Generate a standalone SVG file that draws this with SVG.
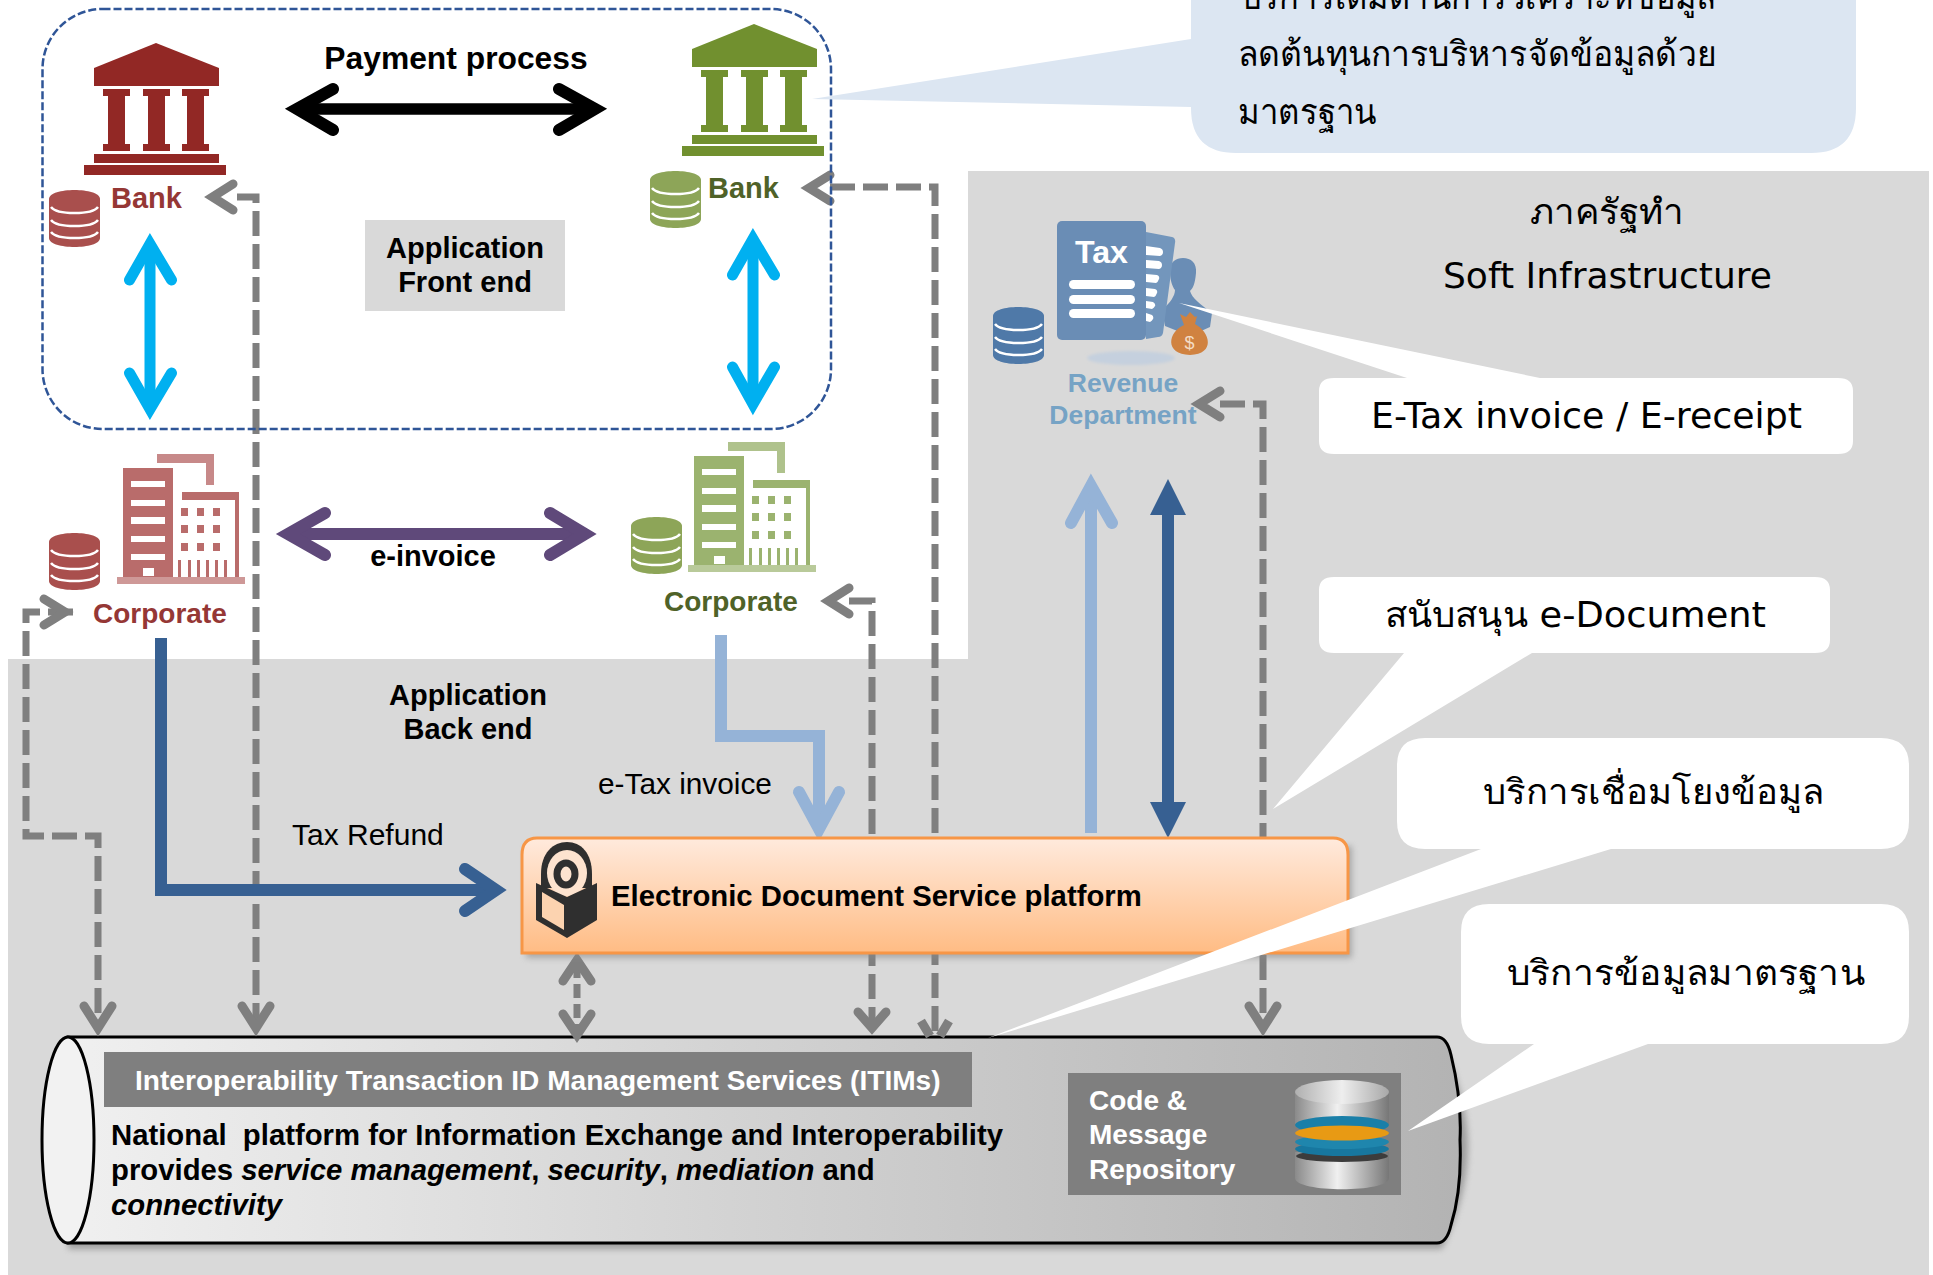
<svg xmlns="http://www.w3.org/2000/svg" width="1933" height="1275" viewBox="0 0 1933 1275">
<style>
text{font-family:"Liberation Sans",Arial,sans-serif;fill:#000}
.b{font-weight:700}
.t{font-family:"DejaVu Sans","Noto Sans",sans-serif;font-size:35px}
.cn{fill:none;stroke-linejoin:miter}
.g{stroke:#7f7f7f;stroke-width:7}
.h{stroke:#7f7f7f;stroke-width:9;stroke-linecap:round}
.d{stroke-dasharray:25 8}
.w{fill:#fff}
</style>
<defs>
<linearGradient id="og" x1="0" y1="0" x2="0" y2="1"><stop offset="0" stop-color="#ffeadd"/><stop offset="1" stop-color="#ffbc84"/></linearGradient>
<linearGradient id="cg" x1="0" y1="0" x2="1" y2="0"><stop offset="0" stop-color="#f0f0f0"/><stop offset="1" stop-color="#b3b3b3"/></linearGradient>
<linearGradient id="sv" x1="0" y1="0" x2="1" y2="0"><stop offset="0" stop-color="#8a8a8a"/><stop offset=".45" stop-color="#f0f0f0"/><stop offset="1" stop-color="#777"/></linearGradient>
<linearGradient id="sv2" x1="0" y1="0" x2="1" y2="0"><stop offset="0" stop-color="#b0b0b0"/><stop offset=".5" stop-color="#eee"/><stop offset="1" stop-color="#a8a8a8"/></linearGradient>
<filter id="sh" x="-5%" y="-5%" width="110%" height="115%"><feGaussianBlur stdDeviation="3"/></filter>
<filter id="sb" x="-20%" y="-50%" width="140%" height="200%"><feGaussianBlur stdDeviation="1.500"/></filter>
<symbol id="bank" overflow="visible"><path d="M156 43L219 68V86H94V68Z"/><path d="M103 89h27v7h-5v48h5v7h-27v-7h5V96h-5zM143 89h27v7h-5v48h5v7h-27v-7h5V96h-5zM182 89h27v7h-5v48h5v7h-27v-7h5V96h-5z"/><rect x="94" y="154" width="125" height="9"/><rect x="84" y="165" width="142" height="10"/></symbol>
<symbol id="db" overflow="visible"><path d="M0 9C0-3 51-3 51 9V48C51 60 0 60 0 48Z"/><path d="M2 17C8 25 43 25 49 17M2 30C8 38 43 38 49 30M2 42C8 50 43 50 49 42" fill="none" stroke="#fff" stroke-width="2.500"/></symbol>
<symbol id="bld" overflow="visible"><path d="M157 454h57v31h-8v-22h-49z" opacity=".8"/><path d="M123 468h50v109h-50z"/><path d="M182 492h57v85h-4V500h-53z"/><rect x="117" y="577" width="128" height="7" opacity=".7"/><path d="M131 481h34v6h-34zM131 500h34v6h-34zM131 517h34v7h-34zM131 536h34v6h-34zM131 554h34v6h-34zM143 568h11v8h-11z" fill="#fff"/><path d="M181 508h7v8h-7zM197 508h7v8h-7zM213 508h7v8h-7zM181 525h7v8h-7zM197 525h7v8h-7zM213 525h7v8h-7zM181 543h7v8h-7zM197 543h7v8h-7zM213 543h7v8h-7zM178 560h3v17h-3zM188 560h3v17h-3zM197 560h3v17h-3zM206 560h3v17h-3zM215 560h3v17h-3zM224 560h3v17h-3z"/></symbol>
</defs>
<rect width="1933" height="1275" fill="#fff"/>
<path id="background" d="M968 171H1929V1275H8V659H968Z" fill="#d9d9d9"/>
<g id="platform-cylinder">
<path d="M68 1043H1442Q1468 1100 1468 1146Q1468 1195 1442 1249H68Z" fill="#777" opacity=".6" filter="url(#sh)"/>
<path d="M68 1037H1437Q1447 1037 1451 1055Q1462 1100 1460 1140Q1462 1190 1451 1225Q1447 1243 1437 1243H68Z" fill="url(#cg)" stroke="#000" stroke-width="3"/>
<ellipse cx="68" cy="1140" rx="26" ry="103" fill="#f2f2f2" stroke="#000" stroke-width="3"/>
</g>
<g id="connectors" class="cn">
<path class="g d" d="M237 197H256V1028"/><path class="h" d="M233 184L212.500 197L233 210M242 1006L256 1028L270 1006"/>
<path class="g d" d="M830 187H935V1037"/><path class="h" d="M830 175L809 188L830 201"/><path d="M921 1021L930 1036M949 1021L940 1036" stroke="#7f7f7f" stroke-width="9"/>
<path class="g d" d="M73 612H26V836H98V1028"/><path class="h" d="M44 599L65 612L44 625M84 1006L98 1028L112 1006"/>
<path class="g d" d="M849 601H872V1028"/><path class="h" d="M849 588L828.500 601L849 614M858 1012L872 1028L886 1012"/>
<path class="g d" d="M1220 404H1263V1028"/><path class="h" d="M1220 391L1199 404L1220 417M1249 1006L1263 1028L1277 1006"/>
<path class="g" d="M577 964V1032" stroke-dasharray="14 6"/><path class="h" d="M563 981L577 960L591 981M563 1014L577 1035L591 1014"/>
<path d="M300 109H592" stroke="#000" stroke-width="11.500"/><path d="M333 89L297 109L333 130M559 89L595 109L559 130" stroke="#000" stroke-width="12" stroke-linecap="round"/>
<path d="M150 248V405" stroke="#00b0f0" stroke-width="11"/><path d="M129.500 280L150 244L171.500 280M129.500 373L150 409L171.500 373" stroke="#00b0f0" stroke-width="11" stroke-linecap="round"/>
<path d="M753 243V400" stroke="#00b0f0" stroke-width="11"/><path d="M732.500 275L753 239L774.500 275M732.500 367L753 404L774.500 367" stroke="#00b0f0" stroke-width="11" stroke-linecap="round"/>
<path d="M292 534H581" stroke="#5f497a" stroke-width="12"/><path d="M325 513L288 534L325 555M550 513L585 534L550 555" stroke="#5f497a" stroke-width="12" stroke-linecap="round"/>
<path d="M161 638V890H492" stroke="#376092" stroke-width="12"/><path d="M465 869L496 890L465 911" stroke="#376092" stroke-width="12" stroke-linecap="round"/>
<path d="M721 635V736H819V825" stroke="#95b3d7" stroke-width="12"/><path d="M799 792L819 829L839 792" stroke="#95b3d7" stroke-width="12" stroke-linecap="round"/>
<path d="M1091 833V490" stroke="#95b3d7" stroke-width="12"/><path d="M1071 523L1091 486L1112 523" stroke="#95b3d7" stroke-width="12" stroke-linecap="round"/>
<path d="M1168 510V808" stroke="#376092" stroke-width="12"/><path d="M1168 479L1186 515H1150ZM1168 838L1186 802H1150Z" fill="#376092"/>
</g>
<rect id="frontend-boundary" x="42.500" y="9" width="788.500" height="420" rx="60" ry="60" fill="none" stroke="#2f5597" stroke-width="2.500" stroke-dasharray="8 3"/>
<g id="bank-red" fill="#922825"><use href="#bank"/><use href="#db" x="49" y="190" fill="#a94f4d"/><text class="b" x="111" y="208" font-size="29" style="fill:#953735">Bank</text></g>
<g id="bank-green" fill="#71902f"><use href="#bank" x="598" y="-19"/><use href="#db" x="650" y="171" fill="#8da558"/><text class="b" x="708" y="198" font-size="29" style="fill:#4f6228">Bank</text></g>
<g id="corp-red" fill="#b96c6b"><use href="#bld"/><use href="#db" x="49" y="533" fill="#a94f4d"/><text class="b" x="93" y="623" font-size="28" style="fill:#953735">Corporate</text></g>
<g id="corp-green" fill="#9bb36f"><use href="#bld" x="571" y="-12"/><use href="#db" x="631" y="517" fill="#8da558"/><text class="b" x="664" y="611" font-size="28" style="fill:#4f6228">Corporate</text></g>
<g id="revenue">
<use href="#db" x="993" y="307" fill="#4f79a8"/>
<ellipse cx="1131" cy="358" rx="44" ry="7" fill="#c5d0de" filter="url(#sb)"/>
<path d="M1170 270C1170 262 1176 258 1183 258C1191 258 1197 263 1196 273C1195 284 1193 288 1190 291C1192 298 1200 304 1212 313L1210 327L1190 336L1165 326L1162 310C1170 303 1175 296 1175 290C1172 286 1170 280 1170 270Z" fill="#6a8db5"/>
<path d="M1146 232L1172 237Q1176 238 1175 243L1163 333Q1162 337 1158 337L1146 339Z" fill="#7396bc"/>
<rect x="1057" y="221" width="89" height="119" rx="5" fill="#6a8db5"/>
<path d="M1146 246l14 2q3 1 3 4t-3 4l-14-1zM1146 260l13 1q3 1 3 4t-3 4l-13-1zM1146 274l11 1q3 1 2 4t-3 4l-10-1zM1146 288l9 1q3 1 2 4t-3 4l-8-1zM1146 301l7 1q3 2 2 4t-3 3l-6-1zM1146 313l6 2q2 2 1 4t-3 3l-4-1z" fill="#fff"/>
<rect x="1069" y="280" width="66" height="9" rx="4.500" fill="#fff"/><rect x="1069" y="295" width="66" height="9" rx="4.500" fill="#fff"/><rect x="1069" y="309" width="66" height="9" rx="4.500" fill="#fff"/>
<text class="b" x="1075" y="263" font-size="32" textLength="53" lengthAdjust="spacingAndGlyphs" style="fill:#fff">Tax</text>
<path d="M1180 314L1186 317L1190 312L1195 317L1197 316L1195 324C1210 332 1216 354 1190 355C1164 354 1168 332 1184 325Z" fill="#d08240"/>
<text x="1189.500" y="349" font-size="18" text-anchor="middle" style="fill:#f3dcc6">$</text>
<text class="b" font-size="26.500" text-anchor="middle" style="fill:#76a3c5"><tspan x="1123" y="392">Revenue</tspan><tspan x="1123" y="424">Department</tspan></text>
</g>
<g id="platform">
<path d="M526 846H1352V958H526Z" fill="#888" opacity=".6" filter="url(#sh)"/>
<path d="M522 953V855Q522 838 537 838H1333Q1348 838 1348 855V953Z" fill="url(#og)" stroke="#f79646" stroke-width="3"/>
<path d="M541 888V874C541 853 553 842 567 842C581 842 592 853 592 874V888Z" fill="#2f2f2f"/>
<ellipse cx="567" cy="873" rx="20" ry="23" fill="#fde3cf"/>
<ellipse cx="566" cy="874" rx="9" ry="11" fill="#fde3cf" stroke="#2f2f2f" stroke-width="7"/>
<path d="M536 883L567 897L597 883V920L567 938L536 920Z" fill="#2f2f2f"/>
<path d="M542 892L564 905V930L542 917Z" fill="#fcd3b0"/>
<text class="b" x="611" y="906" font-size="29.300">Electronic Document Service platform</text>
</g>
<g id="itims">
<rect x="104" y="1052" width="868" height="55" fill="#7f7f7f"/>
<text class="b" x="135" y="1089.500" font-size="28.100" style="fill:#fff">Interoperability Transaction ID Management Services (ITIMs)</text>
<text class="b" font-size="29.300" xml:space="preserve"><tspan x="111" y="1144.500">National  platform for Information Exchange and Interoperability</tspan><tspan x="111" y="1179.500">provides <tspan font-style="italic">service management</tspan>, <tspan font-style="italic">security</tspan>, <tspan font-style="italic">mediation</tspan> and</tspan><tspan x="111" y="1215" font-style="italic">connectivity</tspan></text>
</g>
<g id="repository">
<rect x="1068" y="1073" width="333" height="122" fill="#7f7f7f"/>
<text class="b" font-size="28" style="fill:#fff"><tspan x="1089" y="1110">Code &amp;</tspan><tspan x="1089" y="1144">Message</tspan><tspan x="1089" y="1179">Repository</tspan></text>
<path d="M1295 1092V1124H1389V1092Z" fill="url(#sv)"/>
<path d="M1295 1152V1178C1295 1193 1389 1193 1389 1178V1152Z" fill="url(#sv)"/>
<ellipse cx="1342" cy="1092" rx="47" ry="12" fill="url(#sv2)"/>
<ellipse cx="1342" cy="1156" rx="46" ry="6" fill="#3c3c3c"/>
<ellipse cx="1342" cy="1149" rx="47" ry="7" fill="#17779f"/><ellipse cx="1342" cy="1142" rx="47" ry="7" fill="#1f86ad"/><ellipse cx="1342" cy="1125" rx="47" ry="9" fill="#1a7fa8"/><ellipse cx="1342" cy="1133" rx="47" ry="7.500" fill="#e89a14"/>
</g>
<g id="labels">
<text class="b" x="456" y="69" font-size="31.800" text-anchor="middle">Payment process</text>
<rect x="365" y="220" width="200" height="91" fill="#d9d9d9"/>
<text class="b" font-size="29" text-anchor="middle"><tspan x="465" y="258">Application</tspan><tspan x="465" y="292">Front end</tspan></text>
<text class="b" x="433" y="566" font-size="29" text-anchor="middle">e-invoice</text>
<text class="b" font-size="29" text-anchor="middle"><tspan x="468" y="705">Application</tspan><tspan x="468" y="739">Back end</tspan></text>
<text x="292" y="845" font-size="30">Tax Refund</text>
<text x="598" y="794" font-size="29.800">e-Tax invoice</text>
<text class="t" x="1530" y="224" textLength="154" lengthAdjust="spacingAndGlyphs">ภาครัฐทำ</text>
<text class="t" x="1443" y="288" textLength="329" lengthAdjust="spacingAndGlyphs">Soft Infrastructure</text>
</g>
<g id="callout-blue"><path d="M812 99L1191 39V-40H1856V108Q1856 153 1811 153H1236Q1191 153 1191 108V107Z" fill="#dce6f2"/>
<text class="t" x="1241" y="9" textLength="475" lengthAdjust="spacingAndGlyphs">บริการเติมด้านการวิเคราะห์ข้อมูล</text>
<text class="t" x="1238" y="66" textLength="479" lengthAdjust="spacingAndGlyphs">ลดต้นทุนการบริหารจัดข้อมูลด้วย</text>
<text class="t" x="1238" y="124" textLength="139" lengthAdjust="spacingAndGlyphs">มาตรฐาน</text></g>
<g id="callout-etax" class="w"><path d="M1179 303L1407 378H1334Q1319 378 1319 391V441Q1319 454 1334 454H1838Q1853 454 1853 441V391Q1853 378 1838 378H1540Z"/><text class="t" x="1371" y="428" textLength="431" lengthAdjust="spacingAndGlyphs">E-Tax invoice / E-receipt</text></g>
<g id="callout-edoc" class="w"><path d="M1319 590Q1319 577 1334 577H1815Q1830 577 1830 590V640Q1830 653 1815 653H1532L1273 809L1404 653H1334Q1319 653 1319 640Z"/><text class="t" x="1385" y="627" textLength="381" lengthAdjust="spacingAndGlyphs">สนับสนุน e-Document</text></g>
<g id="callout-link" class="w"><path d="M1397 766Q1397 738 1425 738H1881Q1909 738 1909 766V821Q1909 849 1881 849H1611L988 1038L1481 849H1425Q1397 849 1397 821Z"/><text class="t" x="1483" y="804" textLength="341" lengthAdjust="spacingAndGlyphs">บริการเชื่อมโยงข้อมูล</text></g>
<g id="callout-std" class="w"><path d="M1461 932Q1461 904 1489 904H1881Q1909 904 1909 932V1016Q1909 1044 1881 1044H1648L1408 1131L1534 1044H1489Q1461 1044 1461 1016Z"/><text class="t" x="1507" y="985" textLength="358" lengthAdjust="spacingAndGlyphs">บริการข้อมูลมาตรฐาน</text></g>
</svg>
